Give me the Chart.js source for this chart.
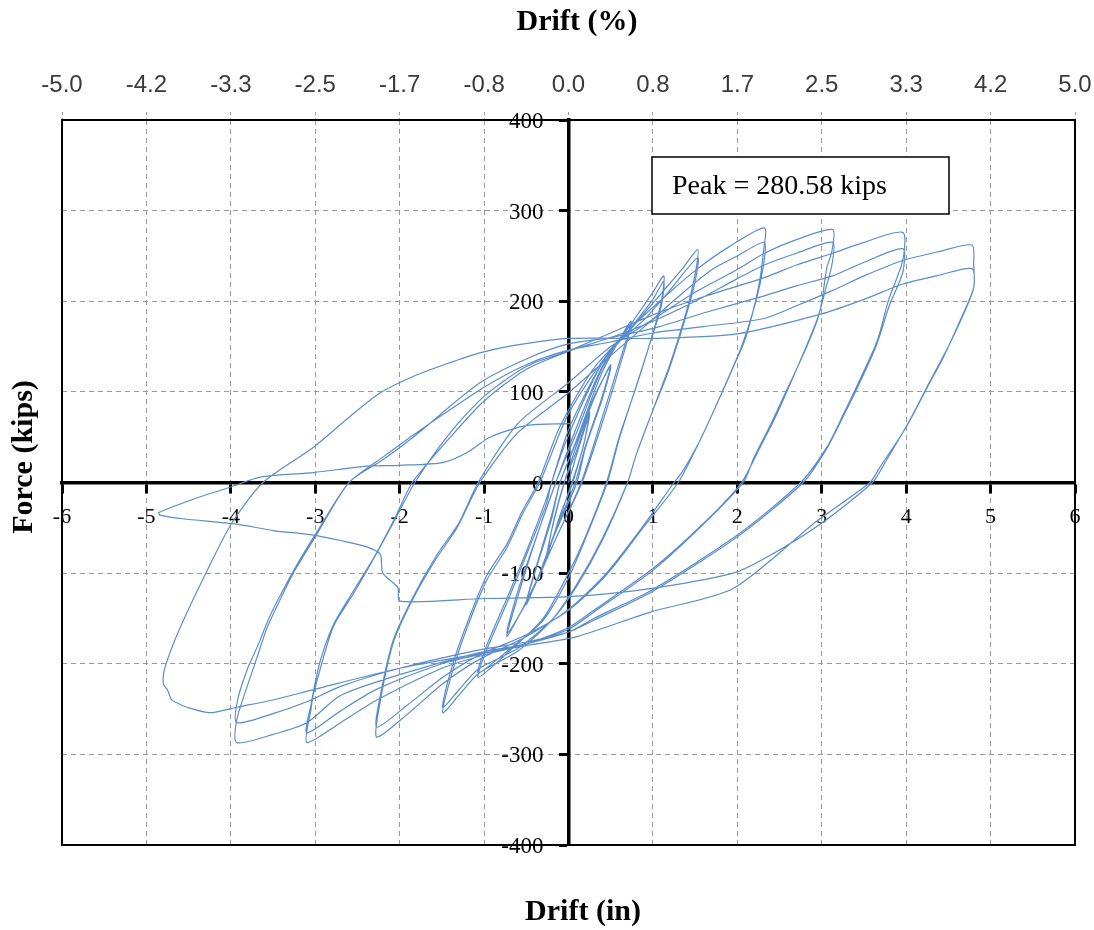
<!DOCTYPE html>
<html>
<head>
<meta charset="utf-8">
<title>Force vs Drift</title>
<script src="https://cdn.jsdelivr.net/npm/chart.js@4.4.1/dist/chart.umd.min.js"></script>
<style>
  body { margin: 0; background: #fff; }
  #wrap { width: 1094px; height: 930px; }
</style>
</head>
<body>
<div id="wrap"><canvas id="hysteresis" width="1094" height="930"></canvas></div>
<script>
// tick labels for the top (drift %) axis, one per inch gridline
const driftPctLabels = ["-5.0", "-4.2", "-3.3", "-2.5", "-1.7", "-0.8", "0.0", "0.8", "1.7", "2.5", "3.3", "4.2", "5.0"];
const peakLabel = "Peak = 280.58 kips";

const loop025 = [[0,0],[0.1,32],[0.25,75],[0.18,42],[0.05,0],[-0.1,-36],[-0.25,-80],[-0.18,-44],[-0.05,0],
  [0.1,36],[0.25,78],[0.17,38],[0.04,0],[-0.1,-38],[-0.26,-82],[-0.18,-45],[-0.05,0]];

const loop050 = [[0.1,42],[0.3,92],[0.5,130],[0.4,95],[0.2,40],[0.08,0],[-0.15,-52],[-0.35,-102],[-0.5,-135],[-0.4,-100],[-0.2,-40],[-0.1,0],
  [0.1,46],[0.3,94],[0.5,128],[0.4,92],[0.2,38],[0.1,0],[-0.15,-54],[-0.35,-102],[-0.5,-132],[-0.38,-92],[-0.2,-36],[-0.1,0]];

const loop075 = [[0.1,48],[0.4,122],[0.74,178],[0.6,132],[0.4,72],[0.15,0],[-0.15,-62],[-0.45,-122],[-0.73,-170],[-0.6,-126],[-0.4,-66],[-0.15,0],
  [0.1,56],[0.4,126],[0.74,175],[0.6,126],[0.38,60],[0.16,0],[-0.15,-62],[-0.45,-124],[-0.73,-167],[-0.6,-120],[-0.38,-60],[-0.15,0]];

const loop113 = [[0.1,62],[0.4,128],[0.75,176],[1.0,210],[1.13,228],[1.1,200],[1.0,165],[0.8,105],[0.6,50],[0.45,0],[0.2,-60],[0,-100],
  [-0.3,-150],[-0.7,-186],[-1.07,-215],[-0.97,-185],[-0.73,-133],[-0.49,-78],[-0.26,-23],[-0.2,0],
  [0,52],[0.4,132],[0.75,172],[1.0,202],[1.13,222],[1.1,195],[0.98,158],[0.78,100],[0.6,48],[0.46,0],[0.2,-62],[0,-105],
  [-0.3,-152],[-0.7,-184],[-1.07,-210],[-0.97,-180],[-0.73,-128],[-0.49,-74],[-0.27,-20],[-0.2,0]];

const loop153 = [[0,58],[0.4,132],[0.8,176],[1.13,212],[1.35,236],[1.53,257],[1.5,230],[1.4,190],[1.2,130],[1.0,80],[0.8,30],[0.7,0],
  [0.4,-62],[0.1,-112],[-0.2,-152],[-0.6,-186],[-1.07,-211],[-1.3,-235],[-1.49,-254],[-1.37,-207],[-1.2,-160],[-0.97,-108],
  [-0.73,-72],[-0.54,-34],[-0.34,0],[0,76],[0.5,146],[0.9,180],[1.2,212],[1.53,248],[1.5,222],[1.38,180],[1.18,122],[0.98,75],
  [0.8,30],[0.7,0],[0.4,-64],[0.1,-114],[-0.2,-152],[-0.6,-183],[-1.07,-206],[-1.3,-229],[-1.49,-248],[-1.37,-200],[-1.2,-155],
  [-0.97,-103],[-0.73,-68],[-0.55,-32],[-0.36,0]];

const loop232 = [[-0.1,62],[0.3,126],[0.8,176],[1.2,210],[1.53,236],[1.9,260],[2.32,281],[2.31,255],[2.25,215],[2.1,160],[1.95,127],
  [1.75,85],[1.55,45],[1.35,12],[1.25,0],[0.9,-46],[0.45,-100],[0,-140],[-0.5,-170],[-1.07,-196],[-1.49,-222],[-1.9,-255],[-2.27,-281],
  [-2.25,-252],[-2.08,-178],[-1.84,-128],[-1.56,-83],[-1.32,-50],[-1.05,0],[-0.6,55],[0,99],[0.5,140],[0.9,172],[1.3,205],[1.7,235],
  [2.0,250],[2.32,265],[2.31,240],[2.22,200],[2.05,150],[1.82,100],[1.55,45],[1.3,0],[0.9,-48],[0.45,-102],[0,-141],[-0.5,-168],
  [-1.07,-191],[-1.49,-215],[-1.9,-245],[-2.27,-270],[-2.25,-245],[-2.08,-175],[-1.84,-126],[-1.56,-80],[-1.3,-45],[-1.07,0]];

const loop313 = [[-0.6,65],[0,110],[0.5,150],[1.0,180],[1.5,210],[2.0,235],[2.32,253],[2.7,268],[3.13,279],[3.12,255],[3.06,237],
  [2.98,190],[2.83,153],[2.66,116],[2.47,76],[2.27,39],[2.05,0],[1.6,-45],[1.0,-95],[0.3,-141],[0,-160],[-0.5,-178],[-1.07,-192],
  [-1.5,-205],[-2.27,-240],[-2.7,-265],[-3.1,-287],[-3.05,-250],[-3.02,-233],[-2.79,-160],[-2.55,-123],[-2.32,-86],[-2.05,-40],
  [-1.82,0],[-1.4,55],[-1.0,95],[-0.5,128],[0,145],[0.5,160],[1.0,178],[1.5,200],[2.0,225],[2.32,240],[2.7,253],[3.13,265],
  [3.12,240],[3.05,215],[2.95,180],[2.8,145],[2.6,105],[2.4,65],[2.2,28],[2.07,0],[1.6,-46],[1.0,-97],[0.3,-143],[0,-162],
  [-0.5,-178],[-1.07,-190],[-1.5,-200],[-2.27,-228],[-2.7,-252],[-3.1,-276],[-3.05,-245],[-2.95,-200],[-2.79,-158],[-2.55,-120],
  [-2.3,-82],[-2.05,-38],[-1.85,0]];

const loop396 = [[-1.4,50],[-1.0,90],[-0.5,125],[0,145],[0.5,165],[1.0,185],[1.6,205],[2.32,226],[2.7,240],[3.13,253],[3.5,265],
  [3.96,276],[3.96,245],[3.79,201],[3.66,157],[3.45,113],[3.26,76],[3.06,39],[2.75,0],[2.0,-58],[1.0,-118],[0.3,-150],[0,-165],
  [-0.5,-178],[-1.07,-188],[-2.0,-212],[-2.7,-235],[-3.1,-265],[-3.5,-278],[-3.93,-287],[-3.93,-262],[-3.81,-226],[-3.69,-193],
  [-3.57,-160],[-3.42,-130],[-3.26,-100],[-3.0,-60],[-2.6,0],[-2.2,25],[-1.84,50],[-1.05,110],[-0.46,138],[0,153],[0.5,160],
  [1.0,170],[1.6,187],[2.32,206],[2.7,217],[3.13,228],[3.5,243],[3.96,258],[3.96,232],[3.8,195],[3.65,152],[3.45,110],[3.25,72],
  [3.05,36],[2.78,0],[2.0,-60],[1.0,-120],[0.3,-152],[0,-165],[-0.5,-176],[-1.07,-185],[-2.0,-205],[-2.7,-225],[-3.1,-242],
  [-3.5,-255],[-3.93,-265],[-3.92,-240],[-3.8,-205],[-3.68,-180],[-3.55,-150],[-3.4,-122],[-3.2,-88],[-2.95,-50],[-2.6,0]];

const loop478 = [[-2.2,28],[-1.8,55],[-1.0,105],[-0.5,130],[0,146],[0.5,155],[1.0,165],[1.6,172],[2.32,181],[2.7,195],[3.13,212],
  [3.5,228],[3.96,245],[4.4,255],[4.78,262],[4.8,240],[4.8,215],[4.64,179],[4.44,138],[4.25,105],[4.0,61],[3.69,17],[3.57,0],
  [2.95,-42],[1.95,-117],[0.97,-143],[0.1,-170],[-0.5,-180],[-1.0,-188],[-2.0,-205],[-3.0,-228],[-3.5,-240],[-3.93,-248],
  [-4.25,-254],[-4.52,-248],[-4.64,-243],[-4.7,-240],[-4.75,-229],[-4.8,-222],[-4.78,-204],[-4.6,-160],[-4.28,-97],[-3.99,-45],
  [-3.62,0],[-3.02,39],[-2.6,72],[-2.23,99],[-1.84,117],[-1.44,131],[-1.05,143],[-0.66,151],[0,159],[1.0,159],[2.0,164],
  [3.0,186],[3.5,202],[3.96,219],[4.4,229],[4.78,236],[4.8,215],[4.7,190],[4.5,150],[4.3,115],[4.05,70],[3.75,22],[3.6,0],
  [2.95,-48],[2.3,-85],[1.95,-100],[0.97,-117],[0,-126]];

// strength loss on the last push, then return to zero drift
const failure = [[-1.0,-128],[-2.0,-131],[-2.02,-116],[-2.2,-100],[-2.23,-79],[-2.39,-71],[-2.7,-64],[-3.02,-58],[-3.5,-53],
  [-3.93,-46],[-4.57,-40],[-4.84,-36],[-4.85,-33],[-4.37,-16],[-4.0,-5],[-3.65,6],[-3.02,11],[-2.39,18],[-2.0,19],[-1.49,22],
  [-1.2,33],[-0.93,50],[-0.49,63],[0.02,65]];

const history = [loop025, loop050, loop075, loop113, loop153, loop232, loop313, loop396, loop478, failure].flat();

const serif = '"Liberation Serif", "Times New Roman", serif';

// frame, axis titles and the peak note
const decorations = {
  id: "decorations",
  beforeDatasetsDraw(chart) {
    const { ctx, chartArea: a } = chart;
    ctx.save();
    ctx.strokeStyle = "#000";
    ctx.lineWidth = 2;
    ctx.strokeRect(a.left, a.top, a.right - a.left, a.bottom - a.top);
    ctx.restore();
  },
  afterDraw(chart) {
    const { ctx, chartArea: a } = chart;
    ctx.save();
    ctx.fillStyle = "#000";
    ctx.font = "bold 30px " + serif;
    ctx.textAlign = "center";
    ctx.textBaseline = "middle";
    ctx.fillText("Drift (%)", 577, 22);
    ctx.fillText("Drift (in)", 583, 912);
    ctx.translate(24, 457);
    ctx.rotate(-Math.PI / 2);
    ctx.fillText("Force (kips)", 0, 0);
    ctx.restore();

    // note box
    ctx.save();
    ctx.fillStyle = "#fff";
    ctx.fillRect(a.left + 590, a.top + 37, 297, 57);
    ctx.strokeStyle = "#000";
    ctx.lineWidth = 1.5;
    ctx.strokeRect(a.left + 590, a.top + 37, 297, 57);
    ctx.fillStyle = "#000";
    ctx.font = "28px " + serif;
    ctx.textBaseline = "middle";
    ctx.fillText(peakLabel, a.left + 610, a.top + 67);
    ctx.restore();
  }
};

// keep the end labels from pushing the plot area inwards
function noSidePadding(scale) {
  scale.paddingLeft = 0;
  scale.paddingRight = 0;
}

const gridStyle = { color: "#9a9a9a", lineWidth: 1, tickColor: "#000", tickWidth: 3 };

new Chart(document.getElementById("hysteresis"), {
  type: "scatter",
  data: {
    datasets: [{
      data: history.map(p => ({ x: p[0], y: p[1] })),
      showLine: true,
      borderColor: "#5b8ccc",
      borderWidth: 1.2,
      pointRadius: 0,
      tension: 0.25,
      fill: false
    }]
  },
  options: {
    responsive: false,
    animation: false,
    devicePixelRatio: 1,
    layout: { padding: { left: 62, right: 19, top: 73, bottom: 85 } },
    plugins: { legend: { display: false }, tooltip: { enabled: false } },
    scales: {
      x: {
        type: "linear",
        position: { y: 0 },
        min: -6, max: 6,
        afterFit: noSidePadding,
        ticks: { stepSize: 1, autoSkip: false, maxRotation: 0, padding: 13, color: "#000", font: { family: serif, size: 22 } },
        grid: { ...gridStyle, tickLength: 9 },
        border: { color: "#000", width: 3.5, dash: [5, 4] }
      },
      y: {
        type: "linear",
        position: "center",
        min: -400, max: 400,
        ticks: { stepSize: 100, autoSkip: false, padding: 17, labelOffset: 2, color: "#000", font: { family: serif, size: 23 } },
        grid: { ...gridStyle, tickLength: 8 },
        border: { color: "#000", width: 3.5, dash: [5, 4] }
      },
      x2: {
        type: "linear",
        position: "top",
        min: -6, max: 6,
        afterFit: (scale) => { noSidePadding(scale); scale.height = 47; },
        ticks: {
          stepSize: 1, autoSkip: false, maxRotation: 0, padding: 12, color: "#3a3a3a",
          font: { family: '"Liberation Sans", Arial, sans-serif', size: 24 },
          callback: (v, i) => driftPctLabels[i]
        },
        grid: { drawOnChartArea: false, color: "#9a9a9a", tickColor: "#9a9a9a", tickWidth: 1, tickLength: 8, tickBorderDash: [3, 3] },
        border: { display: false }
      }
    }
  },
  plugins: [decorations]
});
</script>
</body>
</html>
